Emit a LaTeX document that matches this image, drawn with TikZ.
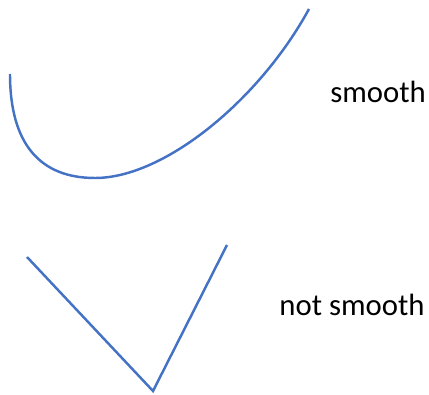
\documentclass[tikz,border=0pt]{standalone}
\usepackage{fontspec}
\setmainfont{Carlito}
\definecolor{officeblue}{RGB}{68,114,196}
\tikzset{
  curveline/.style={officeblue, line width=1.4pt},
  caption/.style={font=\fontsize{17.5}{21}\selectfont, inner sep=0pt}
}
\begin{document}
\begin{tikzpicture}
    % Marco del dibujo
    \useasboundingbox (0,0) rectangle (8.58,7.88);

    % Curva suave
    \draw[curveline] (0.2,6.4) .. controls (0.2,5.0) and (0.8,4.32) .. (1.9,4.32)
                     .. controls (3.3,4.32) and (5.2,5.9) .. (6.18,7.7);
    \node[caption] (smooth) at (7.56,6.04) {smooth};

    % Curva con pico
    \coordinate (vleft) at (0.54,2.74);
    \coordinate (vtip) at (3.06,0.06);
    \coordinate (vright) at (4.54,2.98);
    \draw[curveline] (vleft) -- (vtip) -- (vright);
    \node[caption] (notsmooth) at (7.04,1.78) {not smooth};
\end{tikzpicture}
\end{document}
